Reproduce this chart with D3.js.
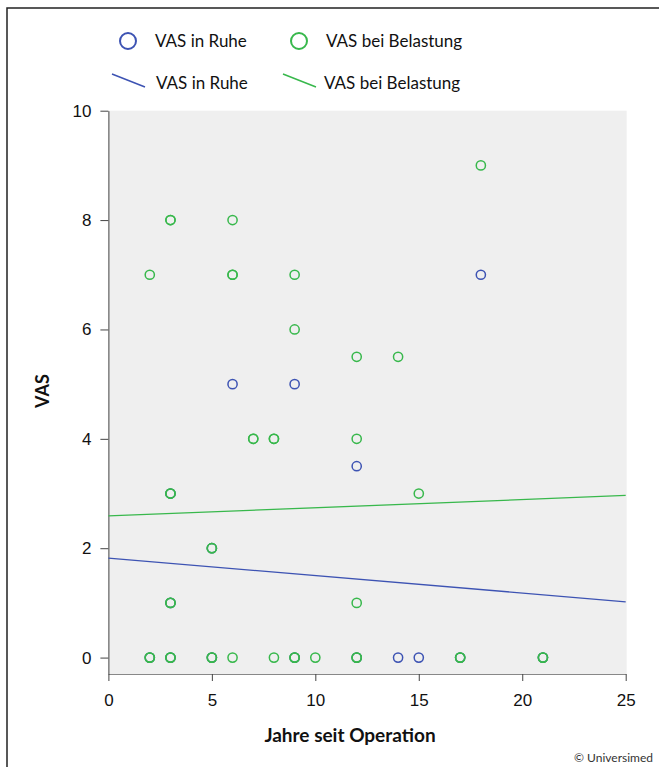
<!DOCTYPE html>
<html>
<head>
<meta charset="utf-8">
<script src="https://cdn.jsdelivr.net/npm/d3@7/dist/d3.min.js"></script>
<style>
  body { margin: 0; background: #fff; }
  svg { display: block; font-family: Lato, "Open Sans", sans-serif; }
</style>
</head>
<body>
<div class="chart"></div>
<script>
// datenpunkte (jahre seit operation, VAS-wert)
var ruheJahre = [18, 6, 9, 12, 14, 15, 2, 3, 5, 9, 12, 17, 21, 3, 5, 3];
var ruheVAS   = [7, 5, 5, 3.5, 0, 0, 0, 0, 0, 0, 0, 0, 0, 1, 2, 3];

var belastungJahre = [2, 3, 3, 6, 6, 6, 9, 18, 9, 12, 14, 7, 7, 8, 8, 12, 15, 3, 3, 5, 5, 3, 3, 12,
  2, 2, 3, 3, 5, 5, 6, 8, 9, 9, 10, 12, 12, 17, 17, 21, 21];
var belastungVAS = [7, 8, 8, 8, 7, 7, 7, 9, 6, 5.5, 5.5, 4, 4, 4, 4, 4, 3, 3, 3, 2, 2, 1, 1, 1,
  0, 0, 0, 0, 0, 0, 0, 0, 0, 0, 0, 0, 0, 0, 0, 0, 0];

// regressionsgeraden: achsenabschnitt und steigung
var fitNamen = ["VAS in Ruhe", "VAS bei Belastung"];
var fitAbschnitt = [1.82, 2.59];
var fitSteigung = [-0.0320, 0.0150];

var xTicks = [0, 5, 10, 15, 20, 25];
var yTicks = [0, 2, 4, 6, 8, 10];

var blau = "#3d53b3";
var gruen = "#38b84c";
var farben = [blau, gruen];

var width = 659;
var height = 767;

var svg = d3.select(".chart").append("svg")
  .attr("width", width)
  .attr("height", height);

// rahmen rund um die grafik
svg.append("rect")
  .attr("x", 7).attr("y", 8)
  .attr("width", 700).attr("height", 800)
  .attr("fill", "none")
  .attr("stroke", "#222")
  .attr("stroke-width", 1.5);

var x = d3.scaleLinear().domain([0, 25]).range([108.4, 625.7]);
var y = d3.scaleLinear().domain([-0.3, 10]).range([674, 110.7]);

// grauer hintergrund des plotbereichs
svg.append("rect")
  .attr("x", x(0))
  .attr("y", y(10))
  .attr("width", x(25) - x(0) + 1)
  .attr("height", y(-0.3) - y(10))
  .attr("fill", "#efefef");

// achsen
var xAxis = svg.append("g")
  .attr("transform", "translate(0," + y(-0.3) + ")")
  .call(d3.axisBottom(x).tickValues(xTicks).tickSize(7).tickSizeOuter(0).tickPadding(13));
xAxis.select(".domain").attr("stroke", "#888");
xAxis.selectAll(".tick line").attr("stroke", "#444");
xAxis.selectAll("text").attr("font-size", 17).attr("fill", "#111");

var yAxis = svg.append("g")
  .attr("transform", "translate(" + x(0) + ",0)")
  .call(d3.axisLeft(y).tickValues(yTicks).tickSize(8).tickSizeOuter(0).tickPadding(9));
yAxis.select(".domain").attr("stroke", "#444");
yAxis.selectAll(".tick line").attr("stroke", "#444");
yAxis.selectAll("text").attr("font-size", 17).attr("fill", "#111");

// achsentitel
svg.append("text")
  .attr("x", 350).attr("y", 742)
  .attr("text-anchor", "middle")
  .attr("font-size", 19).attr("font-weight", "bold")
  .attr("fill", "#111")
  .text("Jahre seit Operation");

svg.append("text")
  .attr("transform", "translate(49,391) rotate(-90)")
  .attr("text-anchor", "middle")
  .attr("font-size", 18).attr("font-weight", "bold")
  .attr("fill", "#111")
  .text("VAS");

svg.append("text")
  .attr("x", 653).attr("y", 762)
  .attr("text-anchor", "end")
  .attr("font-size", 12)
  .attr("fill", "#333")
  .text("© Universimed");

// regressionsgeraden
fitNamen.forEach(function (name, i) {
  svg.append("line")
    .attr("x1", x(0)).attr("y1", y(fitAbschnitt[i]))
    .attr("x2", x(25)).attr("y2", y(fitAbschnitt[i] + 25 * fitSteigung[i]))
    .attr("stroke", farben[i])
    .attr("stroke-width", 1.3);
});

// punkte: erst Ruhe, dann Belastung
var ruhe = ruheJahre.map(function (j, i) { return { j: j, v: ruheVAS[i] }; });
var belastung = belastungJahre.map(function (j, i) { return { j: j, v: belastungVAS[i] }; });

svg.append("g").selectAll("circle")
  .data(ruhe).enter()
  .append("circle")
  .attr("cx", d => x(d.j))
  .attr("cy", d => y(d.v))
  .attr("r", 4.6)
  .attr("fill", "none")
  .attr("stroke", blau)
  .attr("stroke-width", 1.5);

svg.append("g").selectAll("circle")
  .data(belastung).enter()
  .append("circle")
  .attr("cx", d => x(d.j))
  .attr("cy", d => y(d.v))
  .attr("r", 4.6)
  .attr("fill", "none")
  .attr("stroke", gruen)
  .attr("stroke-width", 1.5);

// legende
var legendX = [128, 299];
fitNamen.forEach(function (name, i) {
  svg.append("circle")
    .attr("cx", legendX[i]).attr("cy", 41)
    .attr("r", 8)
    .attr("fill", "none")
    .attr("stroke", farben[i])
    .attr("stroke-width", 2);
  svg.append("text")
    .attr("x", legendX[i] + 27).attr("y", 47)
    .attr("font-size", 17).attr("fill", "#111")
    .text(name);

  svg.append("line")
    .attr("x1", legendX[i] - 16).attr("y1", 74)
    .attr("x2", legendX[i] + 17).attr("y2", 87)
    .attr("stroke", farben[i])
    .attr("stroke-width", 1.5);
  svg.append("text")
    .attr("x", legendX[i] + 28 - (i * 3)).attr("y", 89)
    .attr("font-size", 17).attr("fill", "#111")
    .text(name);
});
</script>
</body>
</html>
